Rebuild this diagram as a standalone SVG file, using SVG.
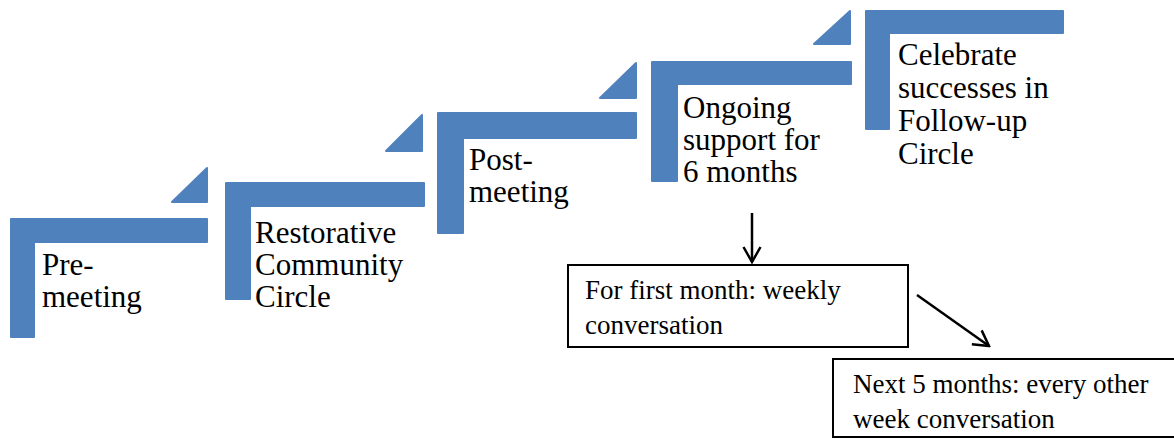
<svg xmlns="http://www.w3.org/2000/svg" width="1174" height="439" viewBox="0 0 1174 439">
  <style>
    .step { fill: #4f81bd; stroke: #4f81bd; stroke-width: 2; stroke-linejoin: round; }
    .lbl { font-family: 'Liberation Serif', 'Times New Roman', Times, Tinos, 'Noto Serif', 'DejaVu Serif', FreeSerif, 'Nimbus Roman', serif; font-size: 31px; fill: #000; }
    .box { fill: #fff; stroke: #000; stroke-width: 2; }
    .boxlbl { font-family: 'Liberation Serif', 'Times New Roman', Times, Tinos, 'Noto Serif', 'DejaVu Serif', FreeSerif, 'Nimbus Roman', serif; font-size: 27px; fill: #000; }
    .conn { stroke: #000; stroke-width: 2.5; fill: none; }
  </style>
  <defs>
    <marker id="open" markerUnits="userSpaceOnUse" viewBox="-18 -11 20 22" refX="0" refY="0" markerWidth="20" markerHeight="22" orient="auto">
      <path d="M-15,-8.5 L0,0 L-15,8.5" fill="none" stroke="#000" stroke-width="2.5" stroke-linejoin="miter"/>
    </marker>
  </defs>

  <g id="step-pre-meeting">
    <path class="step" d="M11 219 H207 V242 H34 V337 H11 Z"/>
    <path class="step" d="M172 202 L207 168 V202 Z"/>
    <text class="lbl" x="42" y="275">Pre-</text>
    <text class="lbl" x="42" y="307">meeting</text>
  </g>

  <g id="step-restorative-circle">
    <path class="step" d="M226 183 H424 V206 H250 V299 H226 Z"/>
    <path class="step" d="M386 151 L422 115 V151 Z"/>
    <text class="lbl" x="255" y="243">Restorative</text>
    <text class="lbl" x="255" y="275">Community</text>
    <text class="lbl" x="255" y="307">Circle</text>
  </g>

  <g id="step-post-meeting">
    <path class="step" d="M438 113 H636 V138 H463 V233 H438 Z"/>
    <path class="step" d="M600 98 L636 63 V98 Z"/>
    <text class="lbl" x="469" y="170">Post-</text>
    <text class="lbl" x="469" y="202">meeting</text>
  </g>

  <g id="step-ongoing-support">
    <path class="step" d="M652 62 H851 V84 H677 V181 H652 Z"/>
    <path class="step" d="M814 44 L850 11 V44 Z"/>
    <text class="lbl" x="683" y="118">Ongoing</text>
    <text class="lbl" x="683" y="150">support for</text>
    <text class="lbl" x="683" y="182">6 months</text>
  </g>

  <g id="step-celebrate">
    <path class="step" d="M866 11 H1063 V33 H889 V129 H866 Z"/>
    <text class="lbl" x="898" y="65">Celebrate</text>
    <text class="lbl" x="898" y="98">successes in</text>
    <text class="lbl" x="898" y="131">Follow-up</text>
    <text class="lbl" x="898" y="164">Circle</text>
  </g>

  <g id="box-first-month">
    <rect class="box" x="568" y="265" width="340" height="82"/>
    <text class="boxlbl" x="585" y="299">For first month: weekly</text>
    <text class="boxlbl" x="585" y="334">conversation</text>
  </g>

  <g id="box-next-months">
    <rect class="box" x="833" y="359" width="350" height="78"/>
    <text class="boxlbl" x="853" y="393">Next 5 months: every other</text>
    <text class="boxlbl" x="853" y="428">week conversation</text>
  </g>

  <g id="connectors">
    <line class="conn" x1="752" y1="213" x2="752" y2="262" marker-end="url(#open)"/>
    <line class="conn" x1="917" y1="295" x2="989" y2="346" marker-end="url(#open)"/>
  </g>
</svg>
